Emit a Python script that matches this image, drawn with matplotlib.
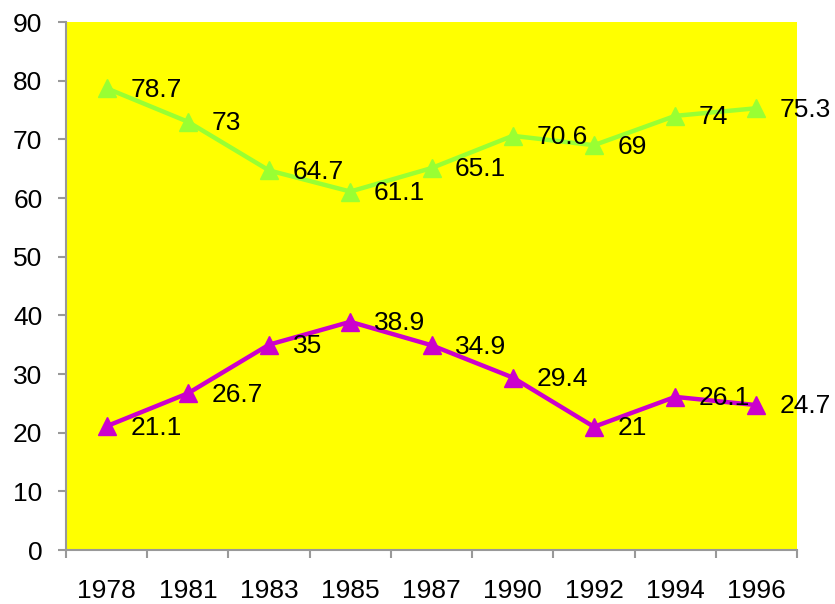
import matplotlib
matplotlib.use("Agg")
import matplotlib.pyplot as plt
import numpy as np

years = ["1978", "1981", "1983", "1985", "1987", "1990", "1992", "1994", "1996"]
series_green = [78.7, 73, 64.7, 61.1, 65.1, 70.6, 69, 74, 75.3]
series_magenta = [21.1, 26.7, 35, 38.9, 34.9, 29.4, 21, 26.1, 24.7]
green_labels = ["78.7", "73", "64.7", "61.1", "65.1", "70.6", "69", "74", "75.3"]
magenta_labels = ["21.1", "26.7", "35", "38.9", "34.9", "29.4", "21", "26.1", "24.7"]

plt.rcParams['font.family'] = ['Liberation Sans', 'DejaVu Sans']

fig = plt.figure(figsize=(8.35, 6.04), dpi=100)
ax = fig.add_axes([66/835, 1-550/604, (797-66)/835, (550-22)/604])
ax.set_facecolor('#FFFF00')

x = np.arange(len(years))
for vals, labs, col in [(series_green, green_labels, '#99FF33'), (series_magenta, magenta_labels, '#CC00CC')]:
    ax.plot(x, vals, color=col, lw=3.2, marker='^', markersize=13, markeredgecolor=col, zorder=3)
    for xi, v, lab in zip(x, vals, labs):
        ax.annotate(lab, (xi, v), xytext=(17, -1), textcoords='offset points',
                    ha='left', va='center', fontsize=19, color='black', zorder=4)

ax.set_xlim(-0.5, len(years) - 0.5)
ax.set_ylim(0, 90)
ax.set_yticks(np.arange(0, 91, 10))
ax.set_xticks(np.arange(-0.5, len(years), 1.0))
ax.set_xticklabels([])
ax.set_xticks(x, minor=True)
ax.set_xticklabels(years, minor=True)

for s in ['top', 'right']:
    ax.spines[s].set_visible(False)
for s in ['left', 'bottom']:
    ax.spines[s].set_color('#999999')
    ax.spines[s].set_linewidth(1.5)

ax.tick_params(axis='y', which='major', length=6, width=1.5, color='#999999', pad=11, labelsize=19)
ax.tick_params(axis='x', which='major', length=6, width=1.5, color='#999999', direction='out')
ax.tick_params(axis='x', which='minor', length=0, pad=21, labelsize=19)

fig.savefig('out.png', dpi=100)
